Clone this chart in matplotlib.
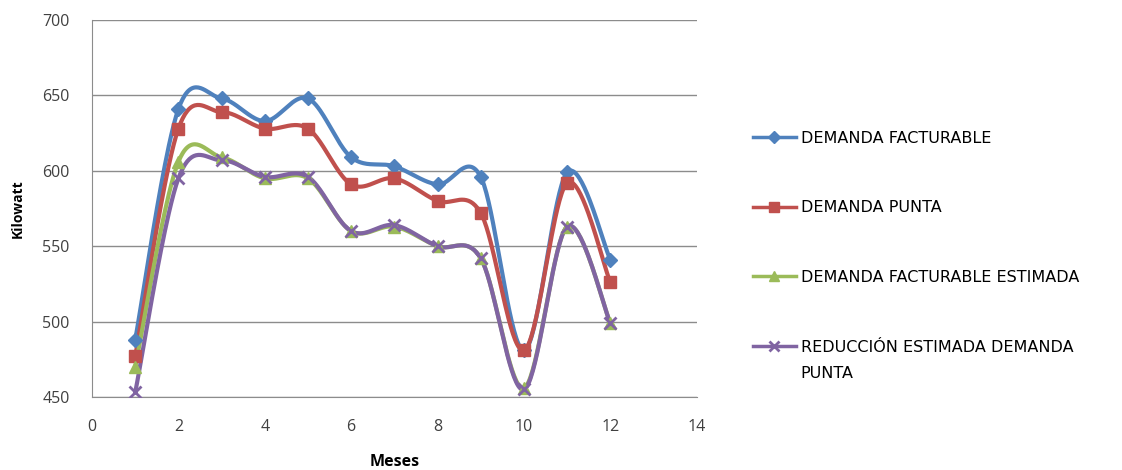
import matplotlib.pyplot as plt
import numpy as np
from matplotlib.lines import Line2D

meses = np.array([1, 2, 3, 4, 5, 6, 7, 8, 9, 10, 11, 12])

dem_facturable = [488, 641, 648, 633, 648, 609, 603, 591, 596, 481, 599, 541]
dem_punta = [477, 628, 639, 628, 628, 591, 595, 580, 572, 481, 592, 526]
dem_fact_estimada = [470, 606, 609, 595, 595, 560, 563, 550, 542, 456, 563, 499]
reduccion_punta = [453, 595, 607, 596, 596, 560, 564, 550, 542, 455, 563, 499]

series = [
    ('DEMANDA FACTURABLE', dem_facturable, '#4F81BD', 'D', 7),
    ('DEMANDA PUNTA', dem_punta, '#C0504D', 's', 8),
    ('DEMANDA FACTURABLE ESTIMADA', dem_fact_estimada, '#9BBB59', '^', 8),
    ('REDUCCIÓN ESTIMADA DEMANDA', reduccion_punta, '#8064A2', 'x', 8),
]


def smooth(x, y, n=40):
    # cubic Bezier through the points, control points a la Catmull-Rom
    pts = np.column_stack([x, y]).astype(float)
    p = np.vstack([pts[0], pts, pts[-1]])
    t = np.linspace(0, 1, n)[:, None]
    out = []
    for i in range(1, len(p) - 2):
        p0, p1, p2, p3 = p[i - 1], p[i], p[i + 1], p[i + 2]
        c1 = p1 + (p2 - p0) / 6
        c2 = p2 - (p3 - p1) / 6
        seg = ((1 - t) ** 3 * p1 + 3 * (1 - t) ** 2 * t * c1
               + 3 * (1 - t) * t ** 2 * c2 + t ** 3 * p2)
        out.append(seg if i == 1 else seg[1:])
    out = np.vstack(out)
    return out[:, 0], out[:, 1]


plt.rcParams['font.family'] = ['Open Sans', 'DejaVu Sans']

fig = plt.figure(figsize=(11.22, 4.70), dpi=100)
ax = fig.add_axes([0.082, 0.1553, 0.539, 0.802])

handles = []
for label, vals, color, mk, ms in series:
    sx, sy = smooth(meses, vals)
    ax.plot(sx, sy, color=color, lw=3, solid_capstyle='round', zorder=3)
    ax.plot(meses, vals, ls='none', marker=mk, ms=ms, color=color,
            mec=color, mew=2 if mk == 'x' else 1, zorder=4)
    handles.append(Line2D([], [], color=color, lw=2.5, marker=mk, ms=ms - 1,
                          mec=color, mew=2 if mk == 'x' else 1, label=label))

ax.set_xlim(0, 14)
ax.set_ylim(450, 700)
ax.set_xticks(range(0, 15, 2))
ax.set_yticks(range(450, 701, 50))
ax.yaxis.grid(True, color='#8c8c8c', lw=1)
ax.set_axisbelow(True)
for s in ['top', 'right']:
    ax.spines[s].set_visible(False)
for s in ['left', 'bottom']:
    ax.spines[s].set_color('#8c8c8c')
ax.tick_params(length=0, labelsize=11.5, colors='#404040')
ax.tick_params(axis='x', pad=16)
ax.tick_params(axis='y', pad=16)

ax.set_xlabel('Meses', fontsize=11.5, fontweight='bold')
ax.xaxis.set_label_coords(0.5, -0.151)
ax.set_ylabel('Kilowatt', fontsize=10, fontweight='bold')
ax.yaxis.set_label_coords(-0.111, 0.5)

leg = fig.legend(handles=handles, loc='upper left',
                 bbox_to_anchor=(0.671, 0.722), frameon=False,
                 prop={'family': 'DejaVu Sans', 'size': 11.5},
                 handlelength=2.7, handletextpad=0.3, labelspacing=3.42,
                 borderpad=0, borderaxespad=0)

# second line of the last legend entry
fig.canvas.draw()
bb = leg.get_texts()[3].get_window_extent()
x0, yc = fig.transFigure.inverted().transform((bb.x0, (bb.y0 + bb.y1) / 2))
fig.text(x0, yc - 26 / 470, 'PUNTA', ha='left', va='center',
         family='DejaVu Sans', fontsize=11.5)

fig.savefig('out.png', dpi=100)
